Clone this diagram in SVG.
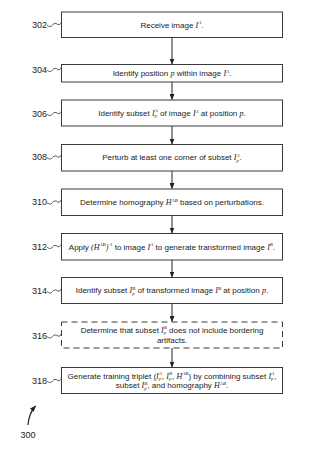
<svg xmlns="http://www.w3.org/2000/svg" width="322" height="453" viewBox="0 0 322 453">
<style>
.box{fill:#fff;stroke:#3a3a3a;stroke-width:1}
.dash{stroke-dasharray:6,4}
.t{font-family:"Liberation Sans",Arial,sans-serif;font-size:8px;fill:#222;text-anchor:middle}
.m{font-family:"Liberation Serif","Times New Roman",serif;font-style:italic}
.sm{font-family:"Liberation Serif","Times New Roman",serif;font-style:italic;font-size:5px}
.lbl{font-family:"Liberation Sans",Arial,sans-serif;font-size:9px;fill:#222}
.lead{fill:none;stroke:#333;stroke-width:0.8}
.conn{stroke:#222;stroke-width:1;fill:none}
</style>
<defs>
<marker id="ah" markerWidth="6" markerHeight="5" refX="5.5" refY="2.5" orient="auto" markerUnits="userSpaceOnUse">
<path d="M0,0 L6,2.5 L0,5 Z" fill="#222"/>
</marker>
</defs>
<g id="connectors">
<line class="conn" x1="172" y1="37.5" x2="172" y2="64" marker-end="url(#ah)"/>
<line class="conn" x1="172" y1="82" x2="172" y2="99.5" marker-end="url(#ah)"/>
<line class="conn" x1="172" y1="126" x2="172" y2="144" marker-end="url(#ah)"/>
<line class="conn" x1="172" y1="171" x2="172" y2="188.5" marker-end="url(#ah)"/>
<line class="conn" x1="172" y1="215.5" x2="172" y2="233" marker-end="url(#ah)"/>
<line class="conn" x1="172" y1="260" x2="172" y2="277" marker-end="url(#ah)"/>
<line class="conn" x1="172" y1="303.5" x2="172" y2="321.5" marker-end="url(#ah)"/>
<line class="conn" x1="172" y1="348" x2="172" y2="367" marker-end="url(#ah)"/>
</g>
<g id="n302">
<rect class="box" x="61.5" y="12" width="221" height="25.5"/>
<text class="t" x="172" y="27.5">Receive image <tspan class="m">I</tspan><tspan class="sm" dy="-3.3">A</tspan><tspan dy="3.3">.</tspan></text>
<text class="lbl" x="32" y="28">302</text>
<path class="lead" d="M47,25 c2,2 4,2 5.5,0 s3.5,-2 5.5,-0.5 c1.5,0.8 2.5,-0.5 3,-2"/>
</g>
<g id="n304">
<rect class="box" x="61.5" y="64.5" width="221" height="17.5"/>
<text class="t" x="172" y="76">Identify position <tspan class="m">p</tspan> within image <tspan class="m">I</tspan><tspan class="sm" dy="-3.3">A</tspan><tspan dy="3.3">.</tspan></text>
<text class="lbl" x="32" y="72.5">304</text>
<path class="lead" d="M47,70 c2,2 4,2 5.5,0 s3.5,-2 5.5,-0.5 c1.5,0.8 2.5,-0.5 3,-2"/>
</g>
<g id="n306">
<rect class="box" x="61.5" y="100" width="221" height="26"/>
<text class="t" x="172" y="115.8">Identify subset <tspan class="m">I</tspan><tspan class="sm" dy="1.6">p</tspan><tspan class="sm" dx="-2.5" dy="-5">A</tspan><tspan dy="3.4"> of image </tspan><tspan class="m">I</tspan><tspan class="sm" dy="-3.3">A</tspan><tspan dy="3.3"> at position </tspan><tspan class="m">p</tspan>.</text>
<text class="lbl" x="32" y="116.5">306</text>
<path class="lead" d="M47,114 c2,2 4,2 5.5,0 s3.5,-2 5.5,-0.5 c1.5,0.8 2.5,-0.5 3,-2"/>
</g>
<g id="n308">
<rect class="box" x="61.5" y="144.5" width="221" height="26.5"/>
<text class="t" x="172" y="160.3">Perturb at least one corner of subset <tspan class="m">I</tspan><tspan class="sm" dy="1.6">p</tspan><tspan class="sm" dx="-2.5" dy="-5">A</tspan><tspan dy="3.4">.</tspan></text>
<text class="lbl" x="32" y="160">308</text>
<path class="lead" d="M47,157.5 c2,2 4,2 5.5,0 s3.5,-2 5.5,-0.5 c1.5,0.8 2.5,-0.5 3,-2"/>
</g>
<g id="n310">
<rect class="box" x="61.5" y="189" width="221" height="26.5"/>
<text class="t" x="172" y="205">Determine homography <tspan class="m">H</tspan><tspan class="sm" dy="-3.3">AB</tspan><tspan dy="3.3"> based on perturbations.</tspan></text>
<text class="lbl" x="32" y="205">310</text>
<path class="lead" d="M47,202.5 c2,2 4,2 5.5,0 s3.5,-2 5.5,-0.5 c1.5,0.8 2.5,-0.5 3,-2"/>
</g>
<g id="n312">
<rect class="box" x="61.5" y="233.5" width="221" height="26.5"/>
<text class="t" x="172" y="249.5">Apply <tspan class="m">(H</tspan><tspan class="sm" dy="-3.3">AB</tspan><tspan class="m" dy="3.3">)</tspan><tspan class="sm" dy="-3.3">-1</tspan><tspan dy="3.3"> to image </tspan><tspan class="m">I</tspan><tspan class="sm" dy="-3.3">A</tspan><tspan dy="3.3"> to generate transformed image </tspan><tspan class="m">I</tspan><tspan class="sm" dy="-3.3">B</tspan><tspan dy="3.3">.</tspan></text>
<text class="lbl" x="32" y="249.5">312</text>
<path class="lead" d="M47,247 c2,2 4,2 5.5,0 s3.5,-2 5.5,-0.5 c1.5,0.8 2.5,-0.5 3,-2"/>
</g>
<g id="n314">
<rect class="box" x="61.5" y="277.5" width="221" height="26"/>
<text class="t" x="172" y="293.3">Identify subset <tspan class="m">I</tspan><tspan class="sm" dy="1.6">p</tspan><tspan class="sm" dx="-2.5" dy="-5">B</tspan><tspan dy="3.4"> of transformed image </tspan><tspan class="m">I</tspan><tspan class="sm" dy="-3.3">B</tspan><tspan dy="3.3"> at position </tspan><tspan class="m">p</tspan>.</text>
<text class="lbl" x="32" y="294">314</text>
<path class="lead" d="M47,291.5 c2,2 4,2 5.5,0 s3.5,-2 5.5,-0.5 c1.5,0.8 2.5,-0.5 3,-2"/>
</g>
<g id="n316">
<rect class="box dash" x="61.5" y="322" width="221" height="26"/>
<text class="t" x="172" y="332.8">Determine that subset <tspan class="m">I</tspan><tspan class="sm" dy="1.6">p</tspan><tspan class="sm" dx="-2.5" dy="-5">B</tspan><tspan dy="3.4"> does not include bordering</tspan></text>
<text class="t" x="172" y="342.8">artifacts.</text>
<text class="lbl" x="32" y="339">316</text>
<path class="lead" d="M47,336.5 c2,2 4,2 5.5,0 s3.5,-2 5.5,-0.5 c1.5,0.8 2.5,-0.5 3,-2"/>
</g>
<g id="n318">
<rect class="box" x="61.5" y="367.5" width="221" height="26"/>
<text class="t" x="172" y="378.6">Generate training triplet (<tspan class="m">I</tspan><tspan class="sm" dy="1.6">p</tspan><tspan class="sm" dx="-2.5" dy="-5">A</tspan><tspan dy="3.4">, </tspan><tspan class="m">I</tspan><tspan class="sm" dy="1.6">p</tspan><tspan class="sm" dx="-2.5" dy="-5">B</tspan><tspan dy="3.4">, </tspan><tspan class="m">H</tspan><tspan class="sm" dy="-3.3">AB</tspan><tspan dy="3.3">) by combining subset </tspan><tspan class="m">I</tspan><tspan class="sm" dy="1.6">p</tspan><tspan class="sm" dx="-2.5" dy="-5">A</tspan><tspan dy="3.4">,</tspan></text>
<text class="t" x="172" y="388.3">subset <tspan class="m">I</tspan><tspan class="sm" dy="1.6">p</tspan><tspan class="sm" dx="-2.5" dy="-5">B</tspan><tspan dy="3.4">, and homography </tspan><tspan class="m">H</tspan><tspan class="sm" dy="-3.3">AB</tspan><tspan dy="3.3">.</tspan></text>
<text class="lbl" x="32" y="383.5">318</text>
<path class="lead" d="M47,381 c2,2 4,2 5.5,0 s3.5,-2 5.5,-0.5 c1.5,0.8 2.5,-0.5 3,-2"/>
</g>
<g id="fig300">
<text class="lbl" x="20.5" y="437.5">300</text>
<path d="M28,425 C28.5,418 31,411 35.5,406" fill="none" stroke="#222" stroke-width="1.2" marker-end="url(#ah)"/>
</g>
</svg>
